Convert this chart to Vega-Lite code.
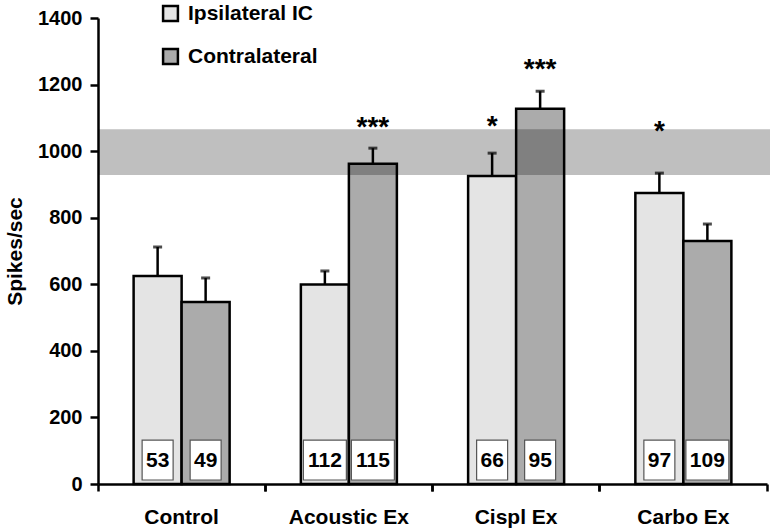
{
  "$schema": "https://vega.github.io/schema/vega-lite/v6.json",
  "width": 669,
  "height": 466,
  "autosize": "none",
  "padding": {"left": 98, "top": 18, "right": 8, "bottom": 47},
  "background": "white",
  "config": {
    "view": {"stroke": null},
    "font": "Liberation Sans",
    "axis": {"labelFont": "Liberation Sans", "titleFont": "Liberation Sans", "labelFontWeight": "bold", "titleFontWeight": "bold", "labelColor": "black", "titleColor": "black", "domainColor": "black", "tickColor": "black", "grid": false}
  },
  "data": {
    "values": [
      {"group": "Control", "side": "Ipsilateral IC", "mean": 625, "hi": 712, "n": 53, "sig": "", "sigAt": 0},
      {"group": "Control", "side": "Contralateral", "mean": 547, "hi": 619, "n": 49, "sig": "", "sigAt": 0},
      {"group": "Acoustic Ex", "side": "Ipsilateral IC", "mean": 599, "hi": 640, "n": 112, "sig": "", "sigAt": 0},
      {"group": "Acoustic Ex", "side": "Contralateral", "mean": 962, "hi": 1009, "n": 115, "sig": "***", "sigAt": 1075},
      {"group": "Cispl Ex", "side": "Ipsilateral IC", "mean": 925, "hi": 994, "n": 66, "sig": "*", "sigAt": 1078},
      {"group": "Cispl Ex", "side": "Contralateral", "mean": 1127, "hi": 1180, "n": 95, "sig": "***", "sigAt": 1250},
      {"group": "Carbo Ex", "side": "Ipsilateral IC", "mean": 874, "hi": 934, "n": 97, "sig": "*", "sigAt": 1063},
      {"group": "Carbo Ex", "side": "Contralateral", "mean": 730, "hi": 781, "n": 109, "sig": "", "sigAt": 0}
    ]
  },
  "encoding": {
    "x": {
      "field": "group", "type": "nominal", "sort": null,
      "scale": {"paddingInner": 0, "paddingOuter": 0},
      "title": null, "axis": null
    },
    "xOffset": {
      "field": "side", "type": "nominal", "sort": ["Ipsilateral IC", "Contralateral"],
      "scale": {"paddingInner": 0, "paddingOuter": 0.742}
    }
  },
  "layer": [
    {
      "mark": {"type": "bar", "stroke": "black", "strokeWidth": 2.5},
      "encoding": {
        "x": {
          "field": "group", "type": "nominal", "sort": null, "title": null,
          "axis": {"labelAngle": 0, "labelFontSize": 21, "bandPosition": 0, "tickSize": 7, "tickWidth": 2.5, "domainWidth": 2.5, "labelPadding": 15, "orient": "bottom"}
        },
        "y": {
          "field": "mean", "type": "quantitative",
          "scale": {"domain": [0, 1400], "nice": false},
          "axis": {"values": [0, 200, 400, 600, 800, 1000, 1200, 1400], "format": "d", "labelFontSize": 20, "tickSize": 8, "tickWidth": 2.5, "domainWidth": 2.5, "labelPadding": 8, "title": "Spikes/sec", "titleFontSize": 21, "titlePadding": 12}
        },
        "fill": {
          "field": "side", "type": "nominal", "sort": ["Ipsilateral IC", "Contralateral"],
          "scale": {"domain": ["Ipsilateral IC", "Contralateral"], "range": ["#e4e4e4", "#ababab"]},
          "legend": {"title": null, "orient": "none", "legendX": 62, "legendY": -15, "symbolType": "square", "symbolSize": 220, "symbolStrokeColor": "black", "symbolStrokeWidth": 2.5, "symbolOpacity": 1, "labelFontSize": 21, "labelFontWeight": "bold", "labelFont": "Liberation Sans", "labelColor": "black", "rowPadding": 18, "labelOffset": 7}
        }
      }
    },
    {
      "mark": {"type": "rule", "strokeWidth": 2.5, "color": "black"},
      "encoding": {
        "x": {
          "field": "group", "type": "nominal", "sort": null, "title": null,
          "axis": {"labels": false, "domain": false, "bandPosition": 1, "tickSize": 7, "tickWidth": 2.5, "orient": "bottom"}
        },
        "y": {"field": "mean", "type": "quantitative"},
        "y2": {"field": "hi"}
      }
    },
    {
      "mark": {"type": "tick", "orient": "horizontal", "thickness": 3, "size": 9, "color": "black"},
      "encoding": {
        "y": {"field": "hi", "type": "quantitative"}
      }
    },
    {
      "mark": {"type": "bar", "fill": "white", "stroke": "#555555", "strokeWidth": 1.2},
      "encoding": {
        "y": {"datum": 12},
        "y2": {"datum": 132},
        "size": {"condition": {"test": "datum.n >= 100", "value": 43}, "value": 31}
      }
    },
    {
      "mark": {"type": "text", "fontSize": 21, "fontWeight": "bold", "color": "black", "baseline": "middle", "dy": 1},
      "encoding": {
        "y": {"datum": 72},
        "text": {"field": "n"}
      }
    },
    {
      "transform": [{"filter": "datum.sig != ''"}],
      "mark": {"type": "text", "fontSize": 28, "fontWeight": "bold", "color": "black", "baseline": "middle", "dy": 2},
      "encoding": {
        "y": {"field": "sigAt", "type": "quantitative"},
        "text": {"field": "sig"}
      }
    },
    {
      "data": {"values": [{"lo": 928, "up": 1066}]},
      "mark": {"type": "rect", "color": "black", "opacity": 0.25},
      "encoding": {
        "x": {"value": 0},
        "x2": {"value": 672},
        "xOffset": null,
        "y": {"field": "lo", "type": "quantitative"},
        "y2": {"field": "up"}
      }
    }
  ],
  "resolve": {"axis": {"x": "independent"}}
}
